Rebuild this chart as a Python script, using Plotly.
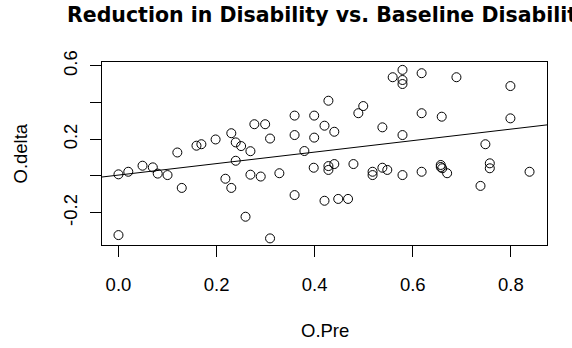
import plotly.graph_objects as go

# ---- data ----
o_pre = [0.000, 0.000, 0.020, 0.049, 0.070, 0.080, 0.100, 0.120, 0.129, 0.159,
         0.169, 0.198, 0.230, 0.239, 0.250, 0.269, 0.277, 0.299, 0.309, 0.239,
         0.218, 0.230, 0.269, 0.290, 0.259, 0.309, 0.328, 0.359, 0.359, 0.359,
         0.399, 0.399, 0.379, 0.398, 0.428, 0.420, 0.440, 0.428, 0.428, 0.440,
         0.420, 0.448, 0.468, 0.479, 0.489, 0.499, 0.538, 0.518, 0.518, 0.538,
         0.548, 0.559, 0.579, 0.579, 0.579, 0.579, 0.579, 0.618, 0.618, 0.618,
         0.657, 0.660, 0.670, 0.657, 0.659, 0.689, 0.738, 0.748, 0.757, 0.757,
         0.799, 0.799, 0.838]
o_delta = [0.009, -0.322, 0.023, 0.056, 0.047, 0.013, 0.005, 0.128, -0.065, 0.165,
           0.173, 0.199, 0.233, 0.183, 0.163, 0.135, 0.282, 0.282, 0.204, 0.083,
           -0.015, -0.065, 0.007, -0.003, -0.222, -0.340, 0.015, -0.104, 0.329, 0.223,
           0.329, 0.209, 0.136, 0.045, 0.410, 0.274, 0.241, 0.054, 0.033, 0.065,
           -0.135, -0.125, -0.125, 0.065, 0.342, 0.381, 0.265, 0.023, 0.005, 0.045,
           0.033, 0.538, 0.578, 0.523, 0.501, 0.223, 0.005, 0.560, 0.342, 0.023,
           0.060, 0.042, 0.015, 0.049, 0.323, 0.538, -0.054, 0.173, 0.069, 0.042,
           0.490, 0.314, 0.023]

fit_intercept = 0.005
fit_slope = 0.313

x_range = [-0.0336, 0.8736]
y_range = [-0.376, 0.621]
x_ticks = [0.0, 0.2, 0.4, 0.6, 0.8]
x_tick_text = ["0.0", "0.2", "0.4", "0.6", "0.8"]
y_ticks = [-0.2, 0.0, 0.2, 0.4, 0.6]
y_tick_text = ["-0.2", "", "0.2", "", "0.6"]

title_text = "Reduction in Disability vs. Baseline Disability"
x_label = "O.Pre"
y_label = "O.delta"

fit_x = list(x_range)
fit_y = [fit_intercept + fit_slope * v for v in fit_x]

W, H = 572, 348
L, R, T, B = 102, 25, 62, 103
plot_w = W - L - R
plot_h = H - T - B

fig = go.Figure()
fig.add_trace(go.Scatter(
    x=o_pre, y=o_delta, mode="markers",
    marker=dict(symbol="circle-open", size=9, color="#000000",
                line=dict(width=1, color="#000000")),
    showlegend=False, hoverinfo="x+y"))
fig.add_trace(go.Scatter(
    x=fit_x, y=fit_y, mode="lines",
    line=dict(color="#000000", width=1),
    showlegend=False, hoverinfo="skip"))

axis_font = dict(family="Liberation Sans, Arial, sans-serif", size=18.5, color="#000000")

fig.update_layout(
    width=W, height=H,
    margin=dict(l=L, r=R, t=T, b=B, pad=0),
    paper_bgcolor="white", plot_bgcolor="white",
    title=dict(text="<b>" + title_text + "</b>",
               font=dict(family="DejaVu Sans, sans-serif", size=20.5, color="#000000"),
               x=67 / W, xanchor="left", xref="container",
               y=1 - 15 / H, yanchor="middle", yref="container"),
    xaxis=dict(range=x_range, tickmode="array", tickvals=x_ticks, ticktext=x_tick_text,
               ticks="outside", ticklen=11, tickwidth=1, tickcolor="#000000",
               showline=True, mirror=True, linecolor="#000000", linewidth=1,
               showgrid=False, zeroline=False, tickfont=axis_font,
               ticklabelstandoff=12),
    yaxis=dict(range=y_range, tickmode="array", tickvals=y_ticks, ticktext=y_tick_text,
               ticks="outside", ticklen=11, tickwidth=1, tickcolor="#000000",
               showline=True, mirror=True, linecolor="#000000", linewidth=1,
               showgrid=False, zeroline=False, tickfont=axis_font, tickangle=-90,
               ticklabelstandoff=6),
    annotations=[
        dict(text=x_label, xref="paper", yref="paper",
             x=0.5, y=(T + plot_h - 330.5) / plot_h,
             xanchor="center", yanchor="middle", showarrow=False, font=axis_font),
        dict(text=y_label, xref="paper", yref="paper",
             x=(20 - L) / plot_w, y=0.5, textangle=-90,
             xanchor="center", yanchor="middle", showarrow=False, font=axis_font),
    ],
)

fig.write_html("out.html", config={"displayModeBar": False})
